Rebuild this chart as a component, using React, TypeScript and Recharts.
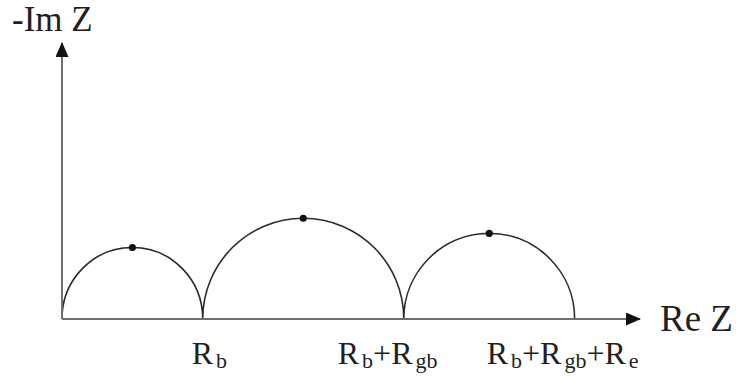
import React from "react";
import { ComposedChart, Line, Scatter, XAxis, YAxis } from "recharts";

// Nyquist plot: cumulative intercepts on Re Z, arc apex heights
const INTERCEPTS = [0, 1.4, 3.4, 5.1];
const APEX = [0.71, 1.0, 0.85];
const TICK_LABELS = [
  [{ t: "R" }, { t: "b", sub: true }],
  [{ t: "R" }, { t: "b", sub: true }, { t: "+R" }, { t: "gb", sub: true }],
  [{ t: "R" }, { t: "b", sub: true }, { t: "+R" }, { t: "gb", sub: true }, { t: "+R" }, { t: "e", sub: true }],
];

const arcPoints = INTERCEPTS.slice(0, -1).flatMap((x0, i) => {
  const x1 = INTERCEPTS[i + 1];
  const pts = [{ x: (x0 + x1) / 2, y: APEX[i] }, { x: x1, y: 0 }];
  return i === 0 ? [{ x: x0, y: 0 }, ...pts] : pts;
});
const apexPoints = APEX.map((y, i) => ({ x: (INTERCEPTS[i] + INTERCEPTS[i + 1]) / 2, y }));

const FONT = "Liberation Serif";
const INK = "#231f20";
const K = 0.5523;

// curve: every (foot, apex, foot) triple becomes a half ellipse
function arcCurve(context: any) {
  let pts: number[][] = [];
  return {
    areaStart() {},
    areaEnd() {},
    lineStart() {
      pts = [];
    },
    lineEnd() {
      if (!pts.length) return;
      context.moveTo(pts[0][0], pts[0][1]);
      for (let i = 0; i + 2 < pts.length; i += 2) {
        const [x0, y0] = pts[i];
        const [x1, y1] = pts[i + 1];
        const [x2, y2] = pts[i + 2];
        context.bezierCurveTo(x0, y0 + K * (y1 - y0), x1 - K * (x1 - x0), y1, x1, y1);
        context.bezierCurveTo(x1 + K * (x2 - x1), y1, x2, y2 + K * (y1 - y2), x2, y2);
      }
    },
    point(x: number, y: number) {
      pts.push([x, y]);
    },
  };
}

const TICK_DX = [-11, -66, -88];

function Tick(props: any) {
  const { x, y, index } = props;
  const parts = TICK_LABELS[index] || [];
  return (
    <text x={x + TICK_DX[index]} y={y + 43} fontFamily={FONT} fontSize={32} fill={INK} stroke="none" textAnchor="start">
      {parts.map((p, i) =>
        p.sub ? (
          <tspan key={i} fontSize={22} dx={3} dy={4}>
            {p.t}
          </tspan>
        ) : (
          <tspan key={i} dy={i === 0 ? 0 : -4}>
            {p.t}
          </tspan>
        )
      )}
    </text>
  );
}

export default function App() {
  return (
    <div style={{ position: "fixed", left: 0, top: 0, width: 736, height: 378, background: "#fff" }}>
      <svg width={0} height={0} style={{ position: "absolute" }}>
        <defs>
          <marker
            id="arrow"
            markerUnits="userSpaceOnUse"
            markerWidth={16}
            markerHeight={13}
            refX={14}
            refY={6.5}
            orient="auto-start-reverse"
          >
            <path d="M0,0 L15,6.5 L0,13 z" fill="#111" />
          </marker>
        </defs>
      </svg>
      <ComposedChart width={736} height={378} margin={{ top: 43, right: 96, bottom: 0, left: 0 }}>
        <XAxis
          type="number"
          dataKey="x"
          domain={[0, 5.75]}
          allowDataOverflow
          ticks={INTERCEPTS.slice(1)}
          height={59}
          tickLine={false}
          tickSize={0}
          tick={<Tick />}
          axisLine={{ stroke: "#6f6f6f", strokeWidth: 2, markerEnd: "url(#arrow)" }}
          label={{
            content: ({ viewBox }: any) => (
              <text x={viewBox.x + viewBox.width + 20} y={viewBox.y + 12} fontFamily={FONT} fontSize={37} fill={INK}>
                Re Z
              </text>
            ),
          }}
        />
        <YAxis
          type="number"
          dataKey="y"
          domain={[0, 2.74]}
          allowDataOverflow
          width={62}
          tick={false}
          tickLine={false}
          axisLine={{ stroke: "#6f6f6f", strokeWidth: 2, markerStart: "url(#arrow)" }}
          label={{
            content: ({ viewBox }: any) => (
              <text x={12} y={viewBox.y - 12} fontFamily={FONT} fontSize={35} fill={INK}>
                -Im Z
              </text>
            ),
          }}
        />
        <Line
          data={arcPoints}
          dataKey="y"
          type={arcCurve as any}
          stroke="#2b2b2b"
          strokeWidth={1.6}
          dot={false}
          activeDot={false}
          isAnimationActive={false}
        />
        <Scatter
          data={apexPoints}
          dataKey="y"
          fill="#111"
          isAnimationActive={false}
          shape={(p: any) => <circle cx={p.cx} cy={p.cy} r={3.6} fill="#111" />}
        />
      </ComposedChart>
    </div>
  );
}
